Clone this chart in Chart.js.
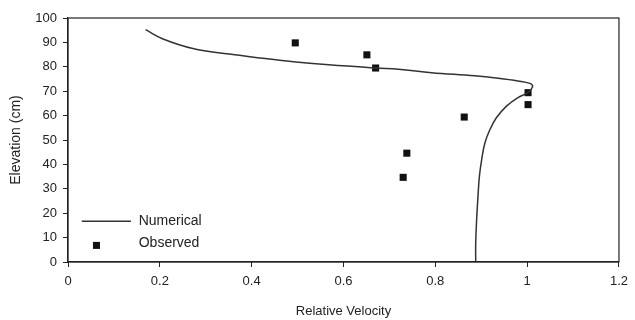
<!DOCTYPE html>
<html>
<head>
<meta charset="utf-8">
<script src="https://cdn.jsdelivr.net/npm/chart.js@4"></script>
<style>
  html, body { margin: 0; padding: 0; background: #fff; }
  #wrap { width: 635px; height: 320px; }
</style>
</head>
<body>
<div id="wrap"><canvas id="velocityChart" width="635" height="320"></canvas></div>
<script>
// Numerical profile (relative velocity, elevation in cm)
const numX = [0.169, 0.207, 0.272, 0.351, 0.424, 0.496, 0.568, 0.670, 0.720, 0.792, 0.886, 0.937, 0.980, 1.006, 1.012, 1.002, 0.980, 0.955, 0.933, 0.919, 0.908, 0.901, 0.896, 0.893, 0.890, 0.888, 0.888];
const numY = [95.2, 91.4, 87.5, 85.2, 83.5, 82.0, 80.8, 79.5, 79.0, 77.6, 76.3, 75.3, 74.2, 73.2, 72.0, 69.5, 67.4, 63.9, 59.1, 54.3, 48.8, 42.0, 35.1, 27.0, 17.3, 8.0, 0];

// Observed points
const obsX = [0.495, 0.651, 0.670, 1.002, 1.002, 0.863, 0.738, 0.730];
const obsY = [89.8, 84.9, 79.5, 69.4, 64.5, 59.4, 44.6, 34.7];

// Axis ranges
const xMin = 0, xMax = 1.2, xStep = 0.2;
const yMin = 0, yMax = 100, yStep = 10;

const seriesNames = ['Numerical', 'Observed'];
const ink = '#222';
const fontFamily = '"Liberation Sans", Arial, sans-serif';

const numericalData = numX.map((x, i) => ({ x: x, y: numY[i] }));
const observedData = obsX.map((x, i) => ({ x: x, y: obsY[i] }));

// Cornice del grafico + legenda dentro l'area
const framePlugin = {
    id: 'frameAndLegend',
    afterDraw(chart) {
        const ctx = chart.ctx;
        const a = chart.chartArea;
        const xs = chart.scales.x;
        const ys = chart.scales.y;
        ctx.save();
        ctx.strokeStyle = ink;
        ctx.lineWidth = 1.2;
        ctx.strokeRect(a.left, a.top, a.right - a.left, a.bottom - a.top);

        // legend rows placed in data space
        const lineY = ys.getPixelForValue(16.7);
        const markY = ys.getPixelForValue(6.8);
        const x0 = xs.getPixelForValue(0.03);
        const x1 = xs.getPixelForValue(0.137);
        const textX = xs.getPixelForValue(0.154);
        const markX = xs.getPixelForValue(0.062);

        ctx.strokeStyle = '#333';
        ctx.lineWidth = 1.5;
        ctx.beginPath();
        ctx.moveTo(x0, lineY);
        ctx.lineTo(x1, lineY);
        ctx.stroke();

        ctx.fillStyle = '#111';
        ctx.fillRect(markX - 3.5, markY - 3.5, 7, 7);

        ctx.fillStyle = ink;
        ctx.font = '14px ' + fontFamily;
        ctx.textBaseline = 'middle';
        ctx.textAlign = 'left';
        ctx.fillText(seriesNames[0], textX, lineY);
        ctx.fillText(seriesNames[1], textX, markY - 2);
        ctx.restore();
    }
};

const chart = new Chart(document.getElementById('velocityChart').getContext('2d'), {
    type: 'scatter',
    data: {
        datasets: [{
            label: seriesNames[0],
            data: numericalData,
            showLine: true,
            borderColor: '#333',
            borderWidth: 1.5,
            pointRadius: 0,
            tension: 0.4,
            fill: false
        }, {
            label: seriesNames[1],
            data: observedData,
            showLine: false,
            pointStyle: 'rect',
            pointRadius: 5,
            pointBackgroundColor: '#111',
            pointBorderColor: '#111',
            pointBorderWidth: 0
        }]
    },
    plugins: [framePlugin],
    options: {
        responsive: false,
        animation: false,
        layout: { padding: { top: 18, right: 14, left: 0, bottom: 0 } },
        plugins: {
            legend: { display: false },
            tooltip: { enabled: false }
        },
        scales: {
            x: {
                type: 'linear',
                min: xMin,
                max: xMax,
                afterFit(scale) { scale.height = 58; },
                ticks: {
                    stepSize: xStep,
                    color: ink,
                    padding: 7,
                    font: { family: fontFamily, size: 13 },
                    callback: v => String(parseFloat(v.toFixed(1)))
                },
                grid: { drawOnChartArea: false, drawTicks: true, tickLength: 5, color: ink },
                border: { display: true, color: ink, width: 1.2 },
                title: {
                    display: true,
                    text: 'Relative Velocity',
                    color: ink,
                    font: { family: fontFamily, size: 13 },
                    padding: { top: 0, bottom: 1 }
                }
            },
            y: {
                type: 'linear',
                min: yMin,
                max: yMax,
                afterFit(scale) { scale.width = 68; },
                ticks: {
                    stepSize: yStep,
                    color: ink,
                    padding: 6,
                    font: { family: fontFamily, size: 13 }
                },
                grid: { drawOnChartArea: false, drawTicks: true, tickLength: 5, color: ink },
                border: { display: true, color: ink, width: 1.2 },
                title: {
                    display: true,
                    text: 'Elevation (cm)',
                    color: ink,
                    font: { family: fontFamily, size: 14 },
                    padding: { top: 8, bottom: 0 }
                }
            }
        }
    }
});
</script>
</body>
</html>
